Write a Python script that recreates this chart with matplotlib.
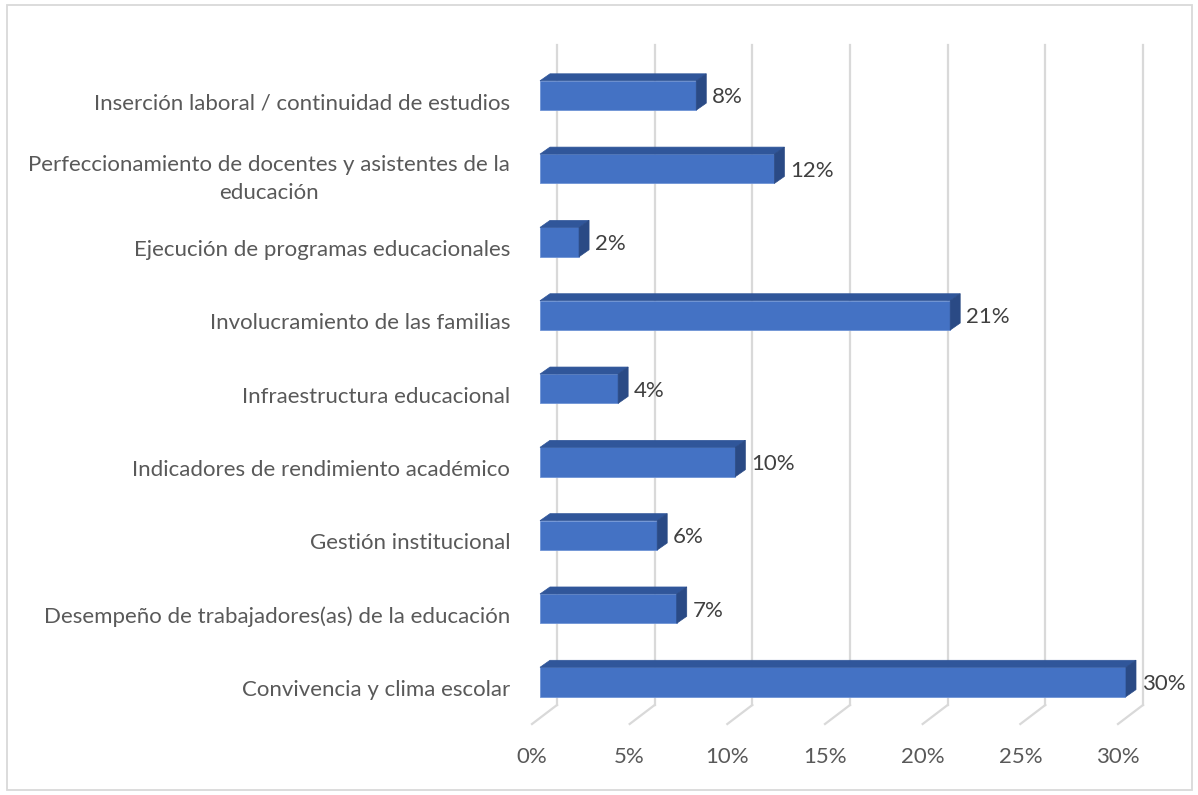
import matplotlib
matplotlib.use("Agg")
import matplotlib.pyplot as plt
from matplotlib.patches import Polygon, Rectangle
from matplotlib.transforms import offset_copy

# ---- data ----
categories = [
    "Convivencia y clima escolar",
    "Desempeño de trabajadores(as) de la educación",
    "Gestión institucional",
    "Indicadores de rendimiento académico",
    "Infraestructura educacional",
    "Involucramiento de las familias",
    "Ejecución de programas educacionales",
    "Perfeccionamiento de docentes y asistentes de la\neducación",
    "Inserción laboral / continuidad de estudios",
]
values = [30, 7, 6, 10, 4, 21, 2, 12, 8]
xticks = [0, 5, 10, 15, 20, 25, 30]
xtick_labels = ["0%", "5%", "10%", "15%", "20%", "25%", "30%"]

# ---- style ----
FONT = "Lato"
FS = 16
TXT = "#595959"
FRONT = "#4472C4"
TOP = "#30569A"
SIDE = "#2A4A85"
GRID = "#D9D9D9"

W, H = 1198, 795
fig = plt.figure(figsize=(W / 100, H / 100), dpi=100)
ax = fig.add_axes([540 / W, (H - 718.6) / H, 586 / W, 659.8 / H])
ax.set_xlim(0, 30)
ax.set_ylim(-0.5, len(categories) - 0.5)
ax.axis("off")

ppx = 586 / 30.0      # pixels per data unit x
ppy = 659.8 / 9.0     # pixels per data unit y
bh = 0.40             # bar thickness (data)
ddx, ddy = 10 / ppx, 7 / ppy   # bar depth in data units

# back wall gridlines + floor lines
back = offset_copy(ax.transData, fig=fig, x=17, y=0, units="dots")
y_floor_back = -0.5 + (718.6 - 705) / ppy
y_top = -0.5 + (718.6 - 45) / ppy
y_floor_front = -0.5 + (718.6 - 724) / ppy
for t in xticks:
    ax.plot([t, t], [y_floor_back, y_top], color=GRID, lw=1.6,
            transform=back, clip_on=False, zorder=0)
    x_back = t + 17 / ppx
    x_front = t - 8 / ppx
    ax.plot([x_back, x_front], [y_floor_back, y_floor_front], color=GRID,
            lw=1.6, clip_on=False, zorder=0)

# bars (front face + top + side)
ys = list(range(len(categories)))
ax.barh(ys, values, height=bh, color=FRONT, edgecolor="#6E93D6",
        linewidth=0.6, zorder=3)
for y, v in zip(ys, values):
    top = y + bh / 2
    bot = y - bh / 2
    ax.add_patch(Polygon([(0, top), (v, top), (v + ddx, top + ddy),
                          (ddx, top + ddy)], closed=True, facecolor=TOP,
                         edgecolor=TOP, lw=0.5, zorder=3, clip_on=False))
    ax.add_patch(Polygon([(v, bot), (v, top), (v + ddx, top + ddy),
                          (v + ddx, bot + ddy)], closed=True, facecolor=SIDE,
                         edgecolor=SIDE, lw=0.5, zorder=3, clip_on=False))
    ax.annotate(f"{v}%", xy=(v, y), xytext=(16, -2), textcoords="offset pixels",
                ha="left", va="center", fontsize=FS, family=FONT,
                color="#404040", annotation_clip=False)

# category labels
for y, c in zip(ys, categories):
    dy = -10 if "\n" in c else -8
    ax.annotate(c, xy=(0, y), xytext=(-30, dy), textcoords="offset pixels",
                ha="right", va="center", multialignment="center",
                fontsize=FS, family=FONT, color=TXT, linespacing=1.5,
                annotation_clip=False)

# x tick labels
for t, lab in zip(xticks, xtick_labels):
    ax.annotate(lab, xy=(t, -0.5), xytext=(-8, -(757 - 718.6)),
                textcoords="offset pixels", ha="center", va="center",
                fontsize=FS, family=FONT, color=TXT, annotation_clip=False)

# chart border
fig.patches.append(Rectangle((7 / W, 5 / H), (1192 - 7) / W, (790 - 5) / H,
                             transform=fig.transFigure, fill=False,
                             edgecolor=GRID, lw=1.3))

fig.savefig("out.png", dpi=100)
